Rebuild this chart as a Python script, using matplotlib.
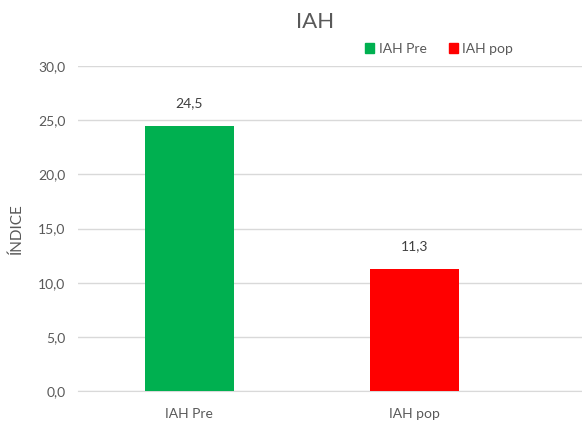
import matplotlib
matplotlib.use("Agg")
import matplotlib.pyplot as plt
from matplotlib.patches import Patch

# --- données ---
categories = ["IAH Pre", "IAH pop"]
valeurs = [24.5, 11.3]
couleurs = ["#00B050", "#FF0000"]
yticks = [0, 5, 10, 15, 20, 25, 30]

plt.rcParams["font.family"] = ["Lato", "DejaVu Sans"]
gris = "#595959"

fig = plt.figure(figsize=(5.82, 4.25), dpi=100)
ax = fig.add_axes([78 / 582, 34 / 425, 504 / 582, 325 / 425])

x = list(range(len(categories)))
bars = ax.bar(x, valeurs, width=0.395, color=couleurs, zorder=3)

# étiquettes de valeurs
for b, v in zip(bars, valeurs):
    ax.annotate(f"{v:.1f}".replace(".", ","),
                (b.get_x() + b.get_width() / 2, v),
                xytext=(0, 12), textcoords="offset points",
                ha="center", va="bottom", fontsize=10, color="#404040")

ax.set_ylim(0, 30)
ax.set_xlim(-0.494, 1.741)
ax.set_yticks(yticks)
ax.set_yticklabels([f"{t:.1f}".replace(".", ",") for t in yticks])
ax.set_xticks(x)
ax.set_xticklabels(categories)
ax.tick_params(axis="both", length=0, labelsize=10, colors=gris)
ax.tick_params(axis="y", pad=9)
ax.tick_params(axis="x", pad=12)

ax.grid(axis="y", color="#D9D9D9", linewidth=1, zorder=0)
for s in ["top", "right", "left"]:
    ax.spines[s].set_visible(False)
ax.spines["bottom"].set_color("#D9D9D9")

ax.set_ylabel("ÍNDICE", fontsize=11, color=gris, labelpad=10)

fig.text(315 / 582, 1 - 22 / 425, "IAH", ha="center", va="center",
         fontsize=16, color=gris)

handles = [Patch(color=c, label=l) for c, l in zip(couleurs, categories)]
fig.legend(handles=handles, loc="center", bbox_to_anchor=(439 / 582, 1 - 49 / 425),
           ncol=2, frameon=False, fontsize=10, labelcolor=gris,
           handlelength=0.7, handleheight=0.7, handletextpad=0.3,
           columnspacing=1.6)

fig.savefig("out.png", dpi=100)
